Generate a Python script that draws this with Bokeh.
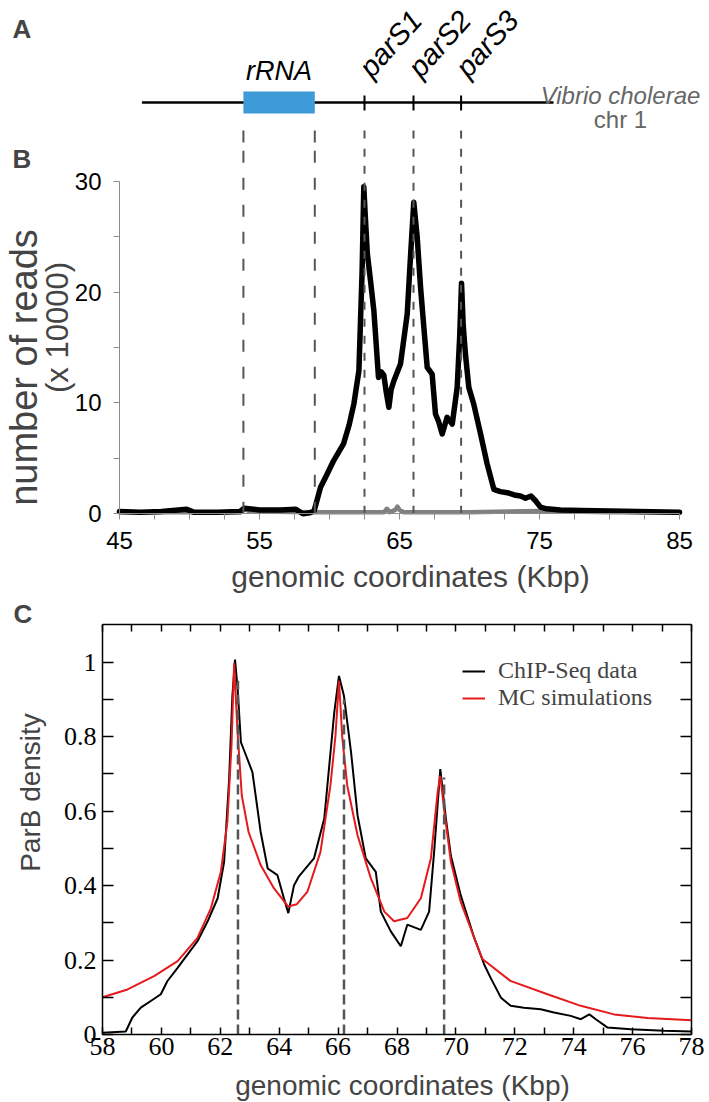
from bokeh.plotting import figure
from bokeh.models import (Range1d, FixedTicker, Label, Legend, LegendItem,
                          LinearAxis, NumeralTickFormatter)
from bokeh.core.properties import value
from bokeh.layouts import column
from bokeh.embed import file_html
from bokeh.resources import INLINE

# ---- panel A: map of the locus (Kbp) ----
chrom_span = [46.6, 76.0]
rrna_span = [53.85, 58.95]
pars_names = ["parS1", "parS2", "parS3"]
pars_pos = [62.5, 66.0, 69.4]

# ---- panel B: number of reads (x 10000) ----
reads_x = [45.0, 46.5, 48.0, 49.8, 50.3, 52.0, 53.6, 53.9, 55.0, 56.5, 57.6, 58.1,
           58.6, 58.9, 59.36, 59.8, 60.3, 61.0, 61.4, 61.74, 62.1, 62.33, 62.45, 62.55,
           62.7, 62.93, 63.17, 63.5, 63.7, 63.88, 64.05, 64.24, 64.4, 64.6, 65.07, 65.55,
           65.8, 66.02, 66.26, 66.5, 66.74, 66.98, 67.33, 67.57, 67.8, 68.05, 68.4, 68.77,
           69.12, 69.3, 69.43, 69.55, 69.71, 69.95, 70.3, 70.79, 71.26, 71.74, 72.2, 72.7,
           73.2, 73.64, 74.0, 74.4, 74.7, 75.07, 75.5, 76.5, 78.0, 80.0, 82.0, 85.0]
reads_y = [0.2, 0.15, 0.2, 0.4, 0.15, 0.15, 0.2, 0.5, 0.35, 0.35, 0.4, 0.0,
           0.1, 0.25, 2.4, 3.5, 4.8, 6.3, 8.0, 9.9, 12.9, 21.9, 29.5, 27.0,
           23.5, 21.0, 18.3, 12.3, 12.8, 12.5, 11.0, 9.6, 11.2, 12.0, 13.5, 18.0,
           23.5, 28.1, 25.0, 20.5, 16.8, 13.2, 12.6, 9.0, 8.3, 7.2, 8.7, 8.1,
           11.4, 16.0, 20.8, 17.0, 14.4, 11.4, 9.9, 7.2, 4.5, 2.2, 2.0, 1.9,
           1.7, 1.6, 1.4, 1.6, 1.2, 0.6, 0.45, 0.35, 0.3, 0.25, 0.2, 0.15]
input_x = [45.0, 53.7, 53.9, 54.3, 58.9, 62.0, 63.9, 64.1, 64.3, 64.7, 64.85, 65.0,
           65.3, 70.0, 75.0, 80.0, 85.0]
input_y = [0.15, 0.15, 0.45, 0.2, 0.15, 0.15, 0.15, 0.45, 0.15, 0.35, 0.65, 0.35,
           0.15, 0.15, 0.25, 0.15, 0.12]

# ---- panel C: ParB density ----
chip_x = [58.0, 58.79, 59.01, 59.30, 59.64, 59.98, 60.20, 60.55, 60.89, 61.22, 61.57,
          61.91, 62.13, 62.30, 62.41, 62.50, 62.59, 62.70, 62.92, 63.09, 63.37, 63.61,
          63.94, 64.16, 64.31, 64.50, 64.67, 65.18, 65.53, 65.87, 66.03, 66.20, 66.44,
          66.66, 66.94, 67.28, 67.45, 67.79, 68.13, 68.35, 68.81, 69.09, 69.26, 69.47,
          69.66, 69.83, 70.16, 70.62, 70.96, 71.18, 71.53, 71.86, 72.31, 72.88, 73.33,
          73.90, 74.24, 74.53, 74.75, 75.14, 75.94, 77.07, 78.0]
chip_y = [0.005, 0.008, 0.045, 0.072, 0.09, 0.108, 0.143, 0.179, 0.215, 0.25, 0.304,
          0.366, 0.464, 0.687, 0.909, 1.007, 0.927, 0.785, 0.74, 0.705, 0.544, 0.446,
          0.428, 0.366, 0.326, 0.40, 0.425, 0.473, 0.58, 0.865, 0.963, 0.909, 0.758,
          0.589, 0.473, 0.437, 0.33, 0.277, 0.237, 0.295, 0.281, 0.33, 0.49, 0.713,
          0.58, 0.48, 0.375, 0.26, 0.188, 0.152, 0.099, 0.077, 0.072, 0.068, 0.059,
          0.05, 0.041, 0.054, 0.041, 0.019, 0.014, 0.01, 0.008]
mc_x = [58.0, 58.85, 59.75, 60.55, 61.22, 61.68, 62.02, 62.24, 62.38, 62.47, 62.58,
        62.73, 62.96, 63.37, 63.82, 64.3, 64.6, 64.96, 65.4, 65.74, 65.91, 66.03,
        66.14, 66.31, 66.66, 67.11, 67.57, 67.9, 68.35, 68.81, 69.15, 69.38, 69.47,
        69.61, 69.83, 70.16, 70.62, 70.9, 71.85, 73.11, 74.24, 75.37, 76.51, 78.0]
mc_y = [0.10, 0.121, 0.157, 0.197, 0.259, 0.339, 0.437, 0.571, 0.776, 0.998, 0.82,
        0.642, 0.544, 0.455, 0.393, 0.344, 0.35, 0.384, 0.49, 0.669, 0.802, 0.95,
        0.80, 0.669, 0.535, 0.42, 0.33, 0.304, 0.313, 0.366, 0.473, 0.651, 0.695,
        0.598, 0.464, 0.357, 0.26, 0.203, 0.144, 0.108, 0.077, 0.054, 0.044, 0.038]
pars_c = [62.6, 66.2, 69.6]
pars_c_top = [0.95, 0.90, 0.69]

SANS = "Liberation Sans"
SERIF = "Liberation Serif"
DASH_GREY = "#555555"
AXIS_GREY = "#8c8c8c"
W = 709


def screen_label(p, x, y, text, size, **kw):
    # text placed in pixels from the frame's bottom-left corner
    kw.setdefault("text_baseline", "middle")
    p.add_layout(Label(x=x, y=y, x_units="screen", y_units="screen", text=text,
                       text_font=SANS, text_font_size=size, **kw))


def bare(p):
    p.grid.visible = False
    p.outline_line_color = None


# panels A and B share one Kbp scale: 14 px per Kbp, 45 Kbp at x = 119 px
kbp_range = Range1d(45 - 119 / 14.0, 45 + (W - 119) / 14.0)
dash_x = rrna_span + pars_pos
dash_style = ["12 15"] * 2 + ["8 9"] * 3

# ================= panel A =================
pA = figure(width=W, height=145, x_range=kbp_range, y_range=Range1d(145, 0),
            x_axis_location=None, y_axis_location=None, min_border=0,
            output_backend="svg", toolbar_location=None)
bare(pA)
pA.segment(x0=dash_x, y0=130, x1=dash_x, y1=150, line_color=DASH_GREY,
           line_width=2, line_dash=dash_style)
pA.segment(x0=[chrom_span[0]], y0=102, x1=[chrom_span[1]], y1=102,
           line_color="black", line_width=2.5)
pA.quad(left=[rrna_span[0]], right=[rrna_span[1]], top=91, bottom=113,
        fill_color="#3f9bd8", line_color=None)
pA.segment(x0=pars_pos, y0=95, x1=pars_pos, y1=110, line_color="black", line_width=2)
pA.text(x=[sum(rrna_span) / 2], y=70, text=["rRNA"], text_align="center",
        text_baseline="middle", text_font=value(SANS), text_font_style="italic",
        text_font_size="27px", text_color="black")
pA.text(x=pars_pos, y=72, text=pars_names, angle=48, angle_units="deg",
        text_align="left", text_baseline="middle", text_font=value(SANS),
        text_font_style="italic", text_font_size="29px", text_color="black")
screen_label(pA, 620, 50, "Vibrio cholerae", "24px", text_align="center",
             text_font_style="italic", text_color="#666666")
screen_label(pA, 620, 26, "chr 1", "24px", text_align="center", text_color="#666666")
screen_label(pA, 12, 117, "A", "26px", text_font_style="bold")

# ================= panel B =================
# frame covers the whole figure; axes are pinned at x = 45 and y = 0
pB = figure(width=W, height=450, x_range=kbp_range,
            y_range=Range1d(-(595 - 513.3) / 11.09, (513.3 - 145) / 11.09),
            min_border=0, output_backend="svg", toolbar_location=None)
bare(pB)
pB.line(input_x, input_y, line_color="#808080", line_width=4.5, line_join="round")
pB.line(reads_x, reads_y, line_color="black", line_width=5.5, line_join="round",
        line_cap="round")
pB.segment(x0=dash_x, y0=0, x1=dash_x, y1=34, line_color=DASH_GREY, line_width=2,
           line_dash=dash_style)

xb = pB.below[0]
yb = pB.left[0]
xb.fixed_location = 0
xb.bounds = (45, 85)
xb.ticker = FixedTicker(ticks=[45, 55, 65, 75, 85],
                        minor_ticks=[47.5, 50, 52.5, 57.5, 60, 62.5, 67.5, 70,
                                     72.5, 77.5, 80, 82.5])
yb.fixed_location = 45
yb.bounds = (0, 30)
yb.ticker = FixedTicker(ticks=[0, 10, 20, 30], minor_ticks=[5, 15, 25])
for ax in (xb, yb):
    ax.axis_line_color = AXIS_GREY
    ax.major_tick_line_color = AXIS_GREY
    ax.minor_tick_line_color = AXIS_GREY
    ax.major_tick_in = 0
    ax.major_tick_out = 6
    ax.minor_tick_in = 0
    ax.minor_tick_out = 6
    ax.major_label_text_font = SANS
    ax.major_label_text_font_size = "24px"
    ax.major_label_text_color = "black"
yb.major_label_standoff = 12
xb.major_label_standoff = 12
screen_label(pB, 410, 19, "genomic coordinates (Kbp)", "30px", text_align="center")
screen_label(pB, 23, 228, "number of reads", "38px", text_align="center",
             angle=90, angle_units="deg")
screen_label(pB, 57, 268, "(x 10000)", "31px", text_align="center",
             angle=90, angle_units="deg")
screen_label(pB, 12, 437, "B", "26px", text_font_style="bold")

# ================= panel C =================
# frame covers the whole figure; the box is drawn by four pinned axes
C_PX = 29.45
C_PY = 372.3
pC = figure(width=W, height=507,
            x_range=Range1d(58 - 102 / C_PX, 58 + (W - 102) / C_PX),
            y_range=Range1d(-(1102 - 1034) / C_PY, (1034 - 595) / C_PY),
            min_border=0, output_backend="svg", toolbar_location=None)
bare(pC)
r_chip = pC.line(chip_x, chip_y, line_color="black", line_width=2)
r_mc = pC.line(mc_x, mc_y, line_color="#e41a1c", line_width=2)
pC.segment(x0=pars_c, y0=0, x1=pars_c, y1=pars_c_top, line_color=DASH_GREY,
           line_width=2.5, line_dash="10 5")

x_tick = FixedTicker(ticks=list(range(58, 79, 2)), minor_ticks=list(range(59, 78, 2)))
y_tick = FixedTicker(ticks=[0, 0.2, 0.4, 0.6, 0.8, 1.0],
                     minor_ticks=[0.1, 0.3, 0.5, 0.7, 0.9])
xc = pC.below[0]
yc = pC.left[0]
xt = LinearAxis()
yr = LinearAxis()
pC.add_layout(xt, "above")
pC.add_layout(yr, "right")
xc.fixed_location = 0
xt.fixed_location = 1.1
yc.fixed_location = 58
yr.fixed_location = 78
for ax in (xc, xt, yc, yr):
    horiz = ax in (xc, xt)
    ax.ticker = x_tick if horiz else y_tick
    ax.bounds = (58, 78) if horiz else (0, 1.1)
    ax.axis_line_color = "black"
    ax.axis_line_width = 1.5
    ax.major_tick_line_color = "black"
    ax.minor_tick_line_color = "black"
    ax.major_tick_line_width = 1.5
    ax.minor_tick_line_width = 1.5
    ax.major_tick_out = 0
    ax.minor_tick_out = 0
    ax.major_tick_in = 7 if horiz else 11
    ax.minor_tick_in = 7 if horiz else 11
    ax.major_label_text_font = SERIF
    ax.major_label_text_font_size = "26px"
    ax.major_label_text_color = "black"
    ax.formatter = NumeralTickFormatter(format="0.[0]")
for ax in (xt, yr):
    ax.major_label_text_color = None
xc.major_label_standoff = 3
yc.major_label_standoff = 6
screen_label(pC, 402, 17, "genomic coordinates (Kbp)", "28px", text_align="center")
screen_label(pC, 30, 310, "ParB density", "28px", text_align="center",
             angle=90, angle_units="deg")
screen_label(pC, 13, 489, "C", "26px", text_font_style="bold")

legend = Legend(items=[LegendItem(label="ChIP-Seq data", renderers=[r_chip]),
                       LegendItem(label="MC simulations", renderers=[r_mc])],
                location=(462, 391), border_line_color=None, background_fill_alpha=0,
                label_text_font=SERIF, label_text_font_size="24px",
                glyph_width=23, label_standoff=13, padding=0, margin=0, spacing=0)
pC.add_layout(legend)

layout = column(pA, pB, pC)
open("out.html", "w").write(file_html(layout, INLINE))
